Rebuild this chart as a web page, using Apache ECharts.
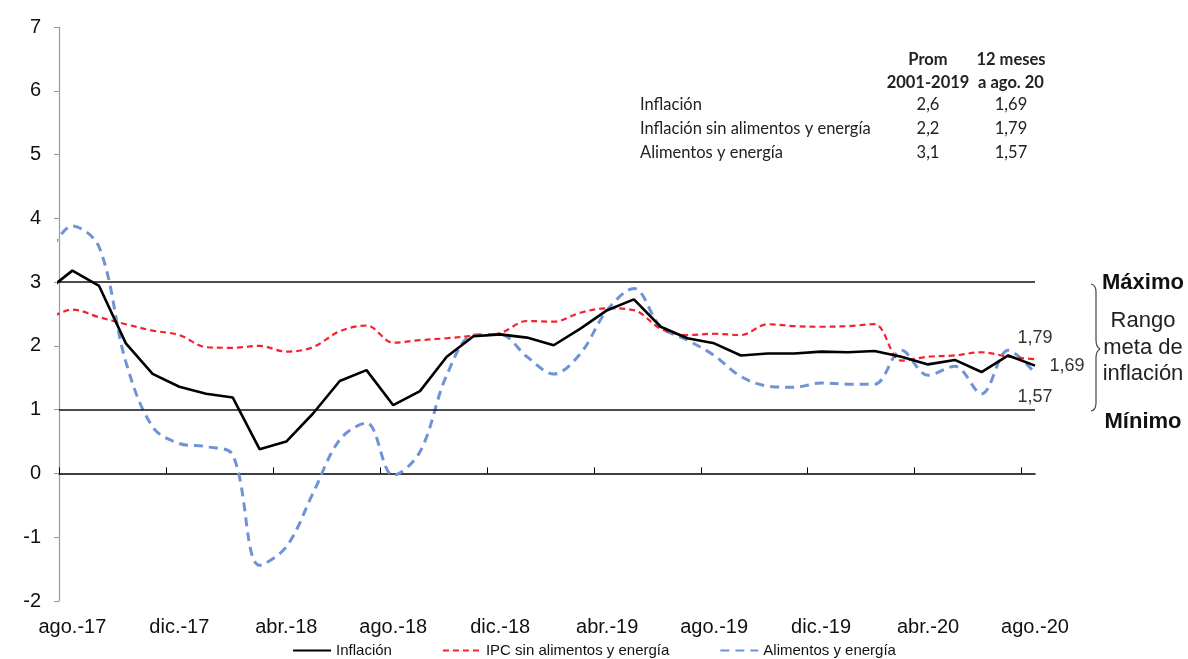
<!DOCTYPE html>
<html>
<head>
<meta charset="utf-8">
<script src="https://cdn.jsdelivr.net/npm/echarts@6/dist/echarts.min.js"></script>
<style>
  html, body { margin: 0; padding: 0; background: #ffffff; }
  #chart { width: 1188px; height: 659px; }
</style>
</head>
<body>
<div id="chart"></div>
<script>
// Monthly 12-month inflation, jul.-17 .. ago.-20 (the axis opens half a month before ago.-17)
const months = ['jul.-17','ago.-17','sep.-17','oct.-17','nov.-17','dic.-17','ene.-18','feb.-18','mar.-18','abr.-18','may.-18','jun.-18','jul.-18','ago.-18','sep.-18','oct.-18','nov.-18','dic.-18','ene.-19','feb.-19','mar.-19','abr.-19','may.-19','jun.-19','jul.-19','ago.-19','sep.-19','oct.-19','nov.-19','dic.-19','ene.-20','feb.-20','mar.-20','abr.-20','may.-20','jun.-20','jul.-20','ago.-20'];

const inflacion = [2.85, 3.18, 2.94, 2.04, 1.56, 1.36, 1.25, 1.19, 0.38, 0.50, 0.94, 1.45, 1.62, 1.07, 1.29, 1.83, 2.15, 2.18, 2.13, 2.01, 2.27, 2.56, 2.73, 2.30, 2.12, 2.04, 1.85, 1.88, 1.88, 1.91, 1.90, 1.92, 1.83, 1.71, 1.78, 1.59, 1.85, 1.69];
const sinAlimentos = [2.39, 2.57, 2.45, 2.34, 2.24, 2.17, 1.98, 1.97, 2.00, 1.91, 1.98, 2.23, 2.32, 2.05, 2.09, 2.12, 2.16, 2.20, 2.39, 2.38, 2.52, 2.59, 2.56, 2.27, 2.17, 2.19, 2.17, 2.34, 2.31, 2.30, 2.31, 2.34, 1.77, 1.83, 1.85, 1.90, 1.83, 1.79];
const alimentos = [3.35, 3.88, 3.55, 1.75, 0.73, 0.47, 0.42, 0.29, -1.44, -1.15, -0.31, 0.53, 0.79, -0.03, 0.34, 1.54, 2.17, 2.18, 1.83, 1.56, 1.88, 2.56, 2.90, 2.30, 2.09, 1.85, 1.52, 1.37, 1.35, 1.42, 1.40, 1.40, 1.93, 1.54, 1.68, 1.25, 1.93, 1.57];

const tickLabels = ['ago.-17','dic.-17','abr.-18','ago.-18','dic.-18','abr.-19','ago.-19','dic.-19','abr.-20','ago.-20'];
const seriesNames = ['Inflación', 'IPC sin alimentos y energía', 'Alimentos y energía'];

// Target range bounds
const rangoMax = 3;
const rangoMin = 1;

// Summary table
const tableHead1 = ['Prom', '12 meses'];
const tableHead2 = ['2001-2019', 'a ago. 20'];
const tableRows = ['Inflación', 'Inflación sin alimentos y energía', 'Alimentos y energía'];
const tableProm = ['2,6', '2,2', '3,1'];
const table12m = ['1,69', '1,79', '1,57'];

// x position: months since ago.-17
const xOf = k => k - 1;
const lastX = months.length - 2;
const fmt = v => v.toFixed(2).replace('.', ',');
const toPoints = values => values.map((v, k) => [xOf(k), v]);

// Value tag on the latest observation of a series
function lastValueTag(values, position, distance) {
  const v = values[values.length - 1];
  return {
    silent: true,
    symbol: 'circle',
    symbolSize: 1,
    itemStyle: { color: 'rgba(0,0,0,0)' },
    label: {
      show: true, position: position, distance: distance,
      formatter: p => fmt(p.value),
      fontSize: 18, color: '#333', fontFamily: 'Liberation Sans, Arial, sans-serif'
    },
    data: [{ coord: [lastX, v], value: v }]
  };
}

const chart = echarts.init(document.getElementById('chart'));

const tableFont = 'Lato, Calibri, sans-serif';
const tSize = 16.5;
const graphics = [];
const colProm = 928, col12 = 1011;
const headText = (x, y, t) => ({ type: 'text', x: x, y: y, style: { text: t, font: 'bold ' + tSize + 'px ' + tableFont, fill: '#222', align: 'center', verticalAlign: 'middle' } });
graphics.push(headText(colProm, 60, tableHead1[0]));
graphics.push(headText(col12, 60, tableHead1[1]));
graphics.push(headText(colProm, 83, tableHead2[0]));
graphics.push(headText(col12, 83, tableHead2[1]));
tableRows.forEach((r, i) => {
  const y = 105 + i * 24;
  graphics.push({ type: 'text', x: 640, y: y, style: { text: r, font: tSize + 'px ' + tableFont, fill: '#222', align: 'left', verticalAlign: 'middle' } });
  graphics.push({ type: 'text', x: colProm, y: y, style: { text: tableProm[i], font: tSize + 'px ' + tableFont, fill: '#222', align: 'center', verticalAlign: 'middle' } });
  graphics.push({ type: 'text', x: col12, y: y, style: { text: table12m[i], font: tSize + 'px ' + tableFont, fill: '#222', align: 'center', verticalAlign: 'middle' } });
});

// Target range annotation on the right
const annFont = 'Liberation Sans, Arial, sans-serif';
graphics.push({ type: 'text', x: 1143, y: 283, style: { text: 'Máximo', font: 'bold 22px ' + annFont, fill: '#111', align: 'center', verticalAlign: 'middle' } });
graphics.push({ type: 'text', x: 1143, y: 422, style: { text: 'Mínimo', font: 'bold 22px ' + annFont, fill: '#111', align: 'center', verticalAlign: 'middle' } });
['Rango', 'meta de', 'inflación'].forEach((t, i) => {
  graphics.push({ type: 'text', x: 1143, y: 321 + i * 26.5, style: { text: t, font: '22px ' + annFont, fill: '#222', align: 'center', verticalAlign: 'middle' } });
});
// Curly brace spanning the target range
const braceStyle = { fill: 'none', stroke: '#444', lineWidth: 1.2 };
graphics.push({ type: 'bezierCurve', shape: { x1: 1091, y1: 284, cpx1: 1096, cpy1: 285, x2: 1096, y2: 292 }, style: braceStyle });
graphics.push({ type: 'line', shape: { x1: 1096, y1: 292, x2: 1096, y2: 340 }, style: braceStyle });
graphics.push({ type: 'bezierCurve', shape: { x1: 1096, y1: 340, cpx1: 1096, cpy1: 347, x2: 1100, y2: 349 }, style: braceStyle });
graphics.push({ type: 'bezierCurve', shape: { x1: 1100, y1: 349, cpx1: 1096, cpy1: 351, x2: 1096, y2: 358 }, style: braceStyle });
graphics.push({ type: 'line', shape: { x1: 1096, y1: 358, x2: 1096, y2: 403 }, style: braceStyle });
graphics.push({ type: 'bezierCurve', shape: { x1: 1096, y1: 403, cpx1: 1096, cpy1: 410, x2: 1091, y2: 411 }, style: braceStyle });

chart.setOption({
  animation: false,
  backgroundColor: '#ffffff',
  grid: { left: 59, right: 153, top: 27, bottom: 58, containLabel: false },
  legend: {
    top: 643,
    left: 'center',
    padding: 0,
    itemWidth: 38,
    itemHeight: 14,
    itemGap: 50,
    itemStyle: { opacity: 0 },
    textStyle: { fontSize: 15, color: '#111', fontFamily: 'Liberation Sans Narrow, Arial Narrow, Liberation Sans, sans-serif' },
    data: seriesNames
  },
  xAxis: [
    {
      type: 'value',
      min: -0.5,
      max: lastX,
      axisLine: { show: true, onZero: true, lineStyle: { color: '#000', width: 1.5 } },
      axisTick: { show: true, inside: true, length: 6, customValues: tickLabels.map((_, k) => 4 * k - 0.5), lineStyle: { color: '#000', width: 1 } },
      axisLabel: { show: false },
      splitLine: { show: false }
    },
    {
      type: 'value',
      min: -0.5,
      max: lastX,
      position: 'bottom',
      axisLine: { show: false, onZero: false },
      axisTick: { show: false },
      axisLabel: {
        show: true,
        margin: 16,
        customValues: tickLabels.map((_, k) => 4 * k),
        formatter: v => tickLabels[Math.round(v / 4)],
        fontSize: 20,
        color: '#111',
        fontFamily: 'Liberation Sans, Arial, sans-serif'
      },
      splitLine: { show: false }
    }
  ],
  yAxis: {
    type: 'value',
    min: -2,
    max: 7,
    interval: 1,
    axisLine: { show: true, onZero: false, lineStyle: { color: '#999', width: 1.2 } },
    axisTick: { show: true, length: 5, lineStyle: { color: '#999' } },
    axisLabel: { fontSize: 20, color: '#111', margin: 18, fontFamily: 'Liberation Sans, Arial, sans-serif' },
    splitLine: { show: false }
  },
  series: [
    {
      name: seriesNames[0],
      type: 'line',
      xAxisIndex: 0,
      data: toPoints(inflacion),
      symbol: 'none',
      clip: true,
      z: 5,
      lineStyle: { color: '#000000', width: 2.6, type: 'solid' },
      itemStyle: { color: '#000000' },
      markLine: {
        silent: true,
        symbol: 'none',
        label: { show: false },
        lineStyle: { color: '#111', width: 1.5, type: 'solid' },
        data: [{ yAxis: rangoMax }, { yAxis: rangoMin }]
      },
      markPoint: lastValueTag(inflacion, 'right', 14)
    },
    {
      name: seriesNames[1],
      type: 'line',
      xAxisIndex: 0,
      data: toPoints(sinAlimentos),
      symbol: 'none',
      smooth: 0.35,
      clip: true,
      z: 4,
      lineStyle: { color: '#f5222d', width: 2.2, type: [6, 4] },
      itemStyle: { color: '#f5222d' },
      markPoint: lastValueTag(sinAlimentos, 'top', 12)
    },
    {
      name: seriesNames[2],
      type: 'line',
      xAxisIndex: 0,
      data: toPoints(alimentos),
      symbol: 'none',
      smooth: 0.35,
      clip: true,
      z: 3,
      lineStyle: { color: '#6f94d6', width: 3, type: [9, 6] },
      itemStyle: { color: '#6f94d6' },
      markPoint: lastValueTag(alimentos, 'bottom', 14)
    }
  ],
  graphic: graphics
});
</script>
</body>
</html>
